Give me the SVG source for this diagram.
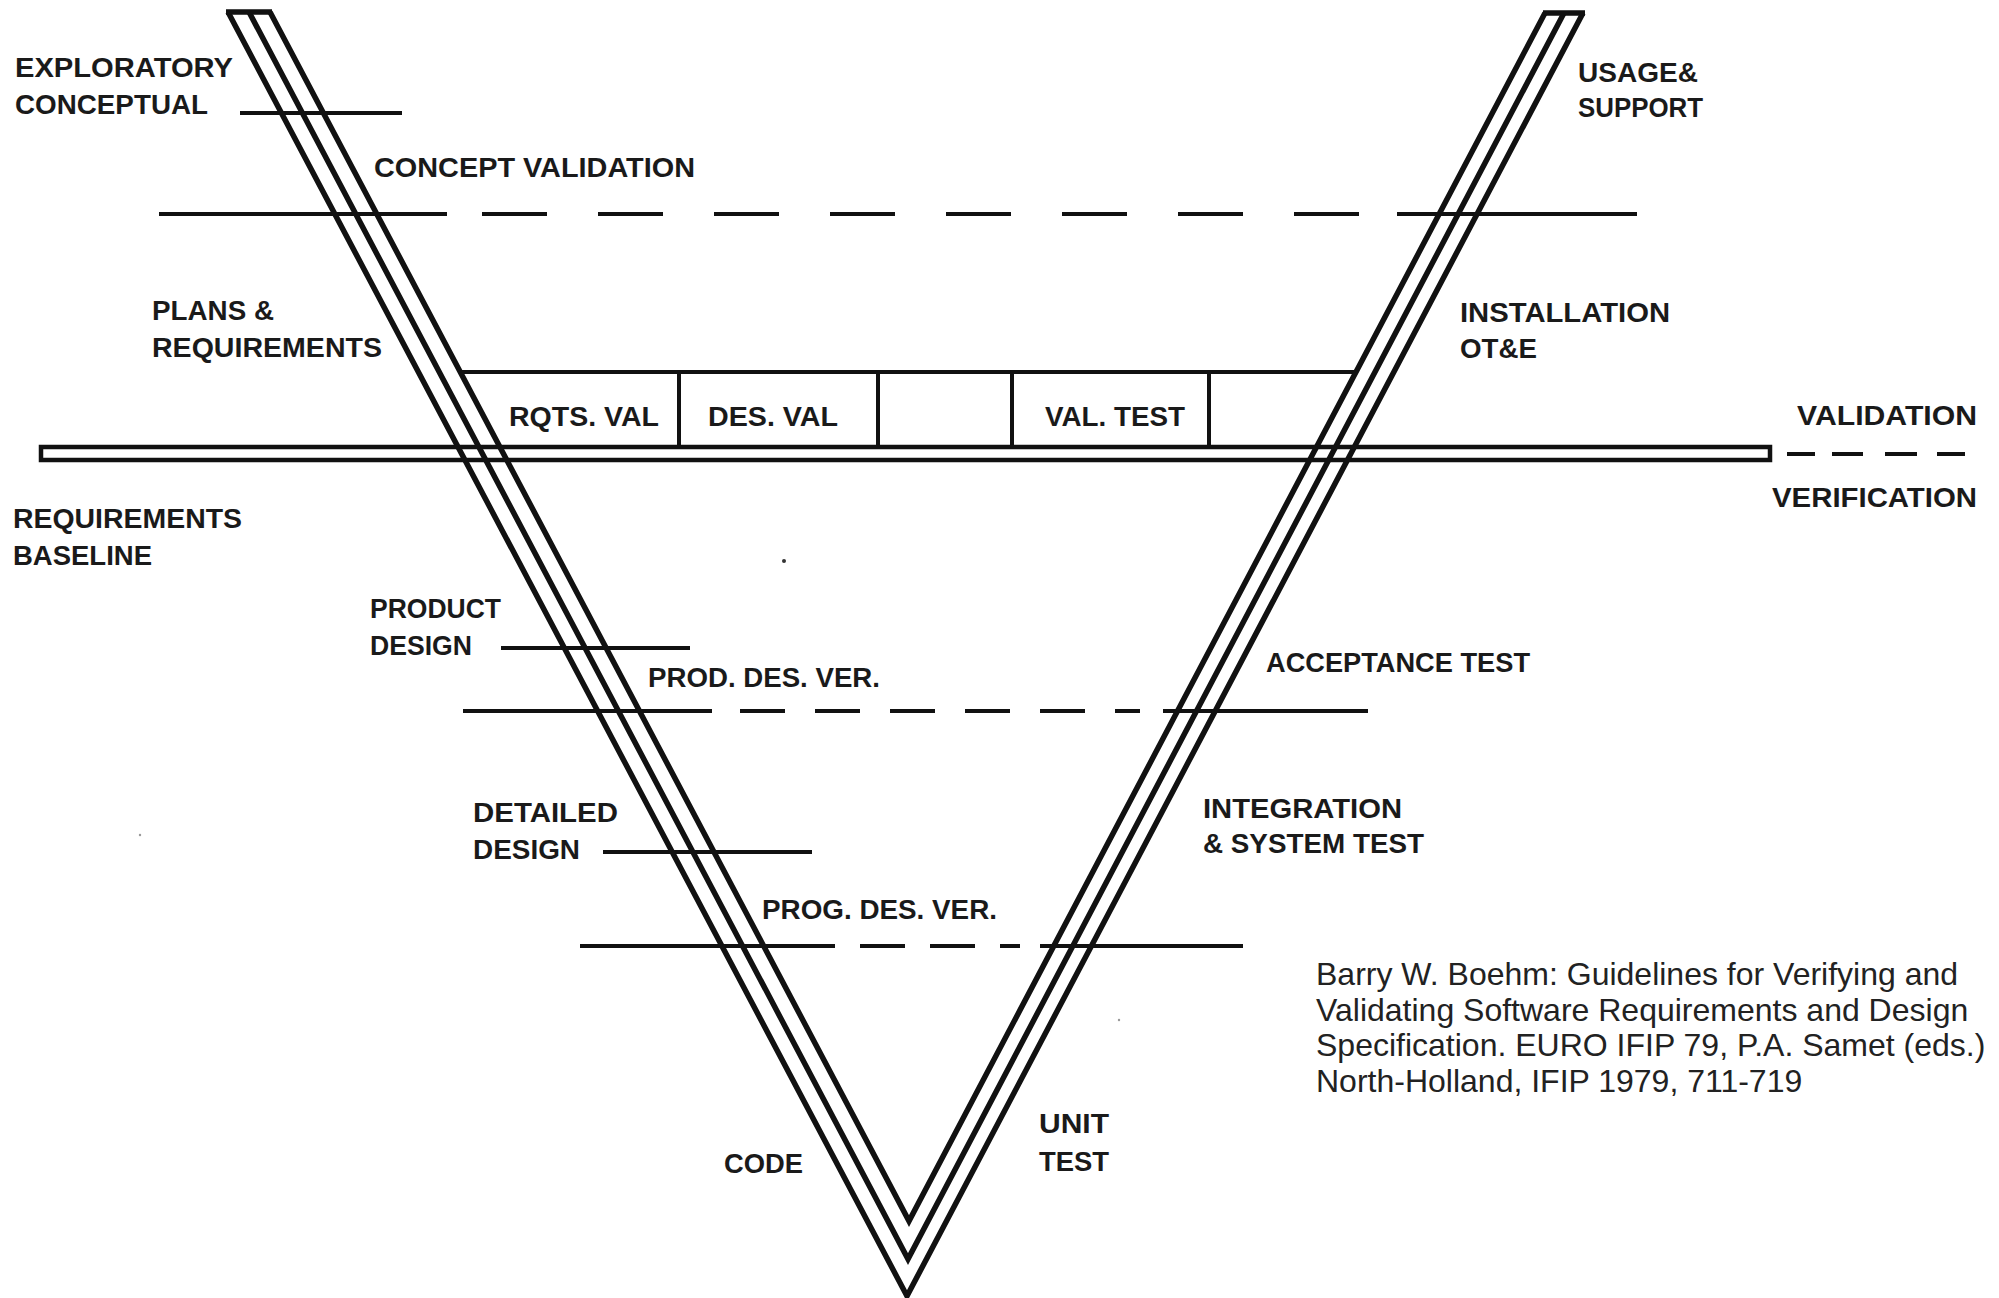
<svg xmlns="http://www.w3.org/2000/svg" width="1999" height="1298" viewBox="0 0 1999 1298">
  <style>
    .arm { fill: none; stroke: #111; stroke-width: 5.5; stroke-linejoin: miter; stroke-miterlimit: 10; }
    .rule { fill: none; stroke: #111; stroke-width: 4; }
    .bar { fill: none; stroke: #111; stroke-width: 4.5; }
    .lbl { font-family: "Liberation Sans", Arial, sans-serif; font-weight: bold; font-size: 27px; fill: #1a1a1a; }
    .cite { font-family: "Liberation Sans", Arial, sans-serif; font-size: 32px; fill: #222; }
    .speck { fill: #333; }
  </style>
  <rect width="1999" height="1298" fill="#fff"/>

  <!-- the V: three parallel strokes per arm with a cap across the top of each arm -->
  <g id="v-shape">
    <path class="arm" d="M228,12 L907,1296 L1583,13"/>
    <path class="arm" d="M249,12 L908,1259 L1564,13"/>
    <path class="arm" d="M270,12 L909,1221 L1545,13"/>
    <path class="arm" d="M226,12 H272 M1543,13 H1585"/>
  </g>

  <g id="connectors">
    <!-- phase boundaries on the left arm -->
    <path class="rule" d="M240,113 H402"/>
    <path class="rule" d="M501,648 H690"/>
    <path class="rule" d="M603,852 H812"/>
    <!-- concept validation level -->
    <path class="rule" d="M159,214 H447 M482,214 H547 M598,214 H663 M714,214 H779 M830,214 H895 M946,214 H1011 M1062,214 H1127 M1178,214 H1243 M1294,214 H1359 M1397,214 H1637"/>
    <!-- product design verification level -->
    <path class="rule" d="M463,711 H712 M740,711 H785 M815,711 H860 M890,711 H935 M965,711 H1010 M1040,711 H1085 M1115,711 H1140 M1163,711 H1368"/>
    <!-- program design verification level -->
    <path class="rule" d="M580,946 H835 M860,946 H905 M930,946 H975 M1000,946 H1020 M1040,946 H1243"/>
    <!-- validation / verification divider -->
    <rect class="bar" x="41" y="447" width="1729" height="13"/>
    <path class="rule" stroke-width="5" d="M1787,454 H1815 M1832,454 H1863 M1885,454 H1917 M1937,454 H1965"/>
    <!-- validation activity boxes -->
    <path class="rule" d="M460,372 H1357 M679,372 V447 M878,372 V447 M1012,372 V447 M1209,372 V447"/>
  </g>

  <g id="box-labels">
    <text class="lbl" x="509" y="426" textLength="150" lengthAdjust="spacingAndGlyphs">RQTS. VAL</text>
    <text class="lbl" x="708" y="426" textLength="130" lengthAdjust="spacingAndGlyphs">DES. VAL</text>
    <text class="lbl" x="1045" y="426" textLength="140" lengthAdjust="spacingAndGlyphs">VAL. TEST</text>
  </g>

  <g id="left-labels">
    <text class="lbl" x="15" y="77" textLength="218" lengthAdjust="spacingAndGlyphs">EXPLORATORY</text>
    <text class="lbl" x="15" y="114" textLength="193" lengthAdjust="spacingAndGlyphs">CONCEPTUAL</text>
    <text class="lbl" x="374" y="177" textLength="321" lengthAdjust="spacingAndGlyphs">CONCEPT VALIDATION</text>
    <text class="lbl" x="152" y="320" textLength="122" lengthAdjust="spacingAndGlyphs">PLANS &amp;</text>
    <text class="lbl" x="152" y="357" textLength="230" lengthAdjust="spacingAndGlyphs">REQUIREMENTS</text>
    <text class="lbl" x="13" y="528" textLength="229" lengthAdjust="spacingAndGlyphs">REQUIREMENTS</text>
    <text class="lbl" x="13" y="565" textLength="139" lengthAdjust="spacingAndGlyphs">BASELINE</text>
    <text class="lbl" x="370" y="618" textLength="131" lengthAdjust="spacingAndGlyphs">PRODUCT</text>
    <text class="lbl" x="370" y="655" textLength="102" lengthAdjust="spacingAndGlyphs">DESIGN</text>
    <text class="lbl" x="648" y="687" textLength="232" lengthAdjust="spacingAndGlyphs">PROD. DES. VER.</text>
    <text class="lbl" x="473" y="822" textLength="145" lengthAdjust="spacingAndGlyphs">DETAILED</text>
    <text class="lbl" x="473" y="859" textLength="107" lengthAdjust="spacingAndGlyphs">DESIGN</text>
    <text class="lbl" x="762" y="919" textLength="235" lengthAdjust="spacingAndGlyphs">PROG. DES. VER.</text>
    <text class="lbl" x="724" y="1173" textLength="79" lengthAdjust="spacingAndGlyphs">CODE</text>
  </g>

  <g id="right-labels">
    <text class="lbl" x="1578" y="82" textLength="120" lengthAdjust="spacingAndGlyphs">USAGE&amp;</text>
    <text class="lbl" x="1578" y="117" textLength="125" lengthAdjust="spacingAndGlyphs">SUPPORT</text>
    <text class="lbl" x="1460" y="322" textLength="210" lengthAdjust="spacingAndGlyphs">INSTALLATION</text>
    <text class="lbl" x="1460" y="358" textLength="77" lengthAdjust="spacingAndGlyphs">OT&amp;E</text>
    <text class="lbl" x="1797" y="425" textLength="180" lengthAdjust="spacingAndGlyphs">VALIDATION</text>
    <text class="lbl" x="1772" y="507" textLength="205" lengthAdjust="spacingAndGlyphs">VERIFICATION</text>
    <text class="lbl" x="1266" y="672" textLength="264" lengthAdjust="spacingAndGlyphs">ACCEPTANCE TEST</text>
    <text class="lbl" x="1203" y="818" textLength="199" lengthAdjust="spacingAndGlyphs">INTEGRATION</text>
    <text class="lbl" x="1203" y="853" textLength="221" lengthAdjust="spacingAndGlyphs">&amp; SYSTEM TEST</text>
    <text class="lbl" x="1039" y="1133" textLength="70" lengthAdjust="spacingAndGlyphs">UNIT</text>
    <text class="lbl" x="1039" y="1171" textLength="70" lengthAdjust="spacingAndGlyphs">TEST</text>
  </g>

  <g id="citation">
    <text class="cite" x="1316" y="985">Barry W. Boehm: Guidelines for Verifying and</text>
    <text class="cite" x="1316" y="1021">Validating Software Requirements and Design</text>
    <text class="cite" x="1316" y="1056">Specification. EURO IFIP 79, P.A. Samet (eds.)</text>
    <text class="cite" x="1316" y="1092">North-Holland, IFIP 1979, 711-719</text>
  </g>

  <!-- scan specks -->
  <g id="specks">
    <circle class="speck" cx="784" cy="561" r="2"/>
    <circle class="speck" cx="140" cy="835" r="1.2" opacity="0.5"/>
    <circle class="speck" cx="1119" cy="1020" r="1.2" opacity="0.5"/>
  </g>
</svg>
